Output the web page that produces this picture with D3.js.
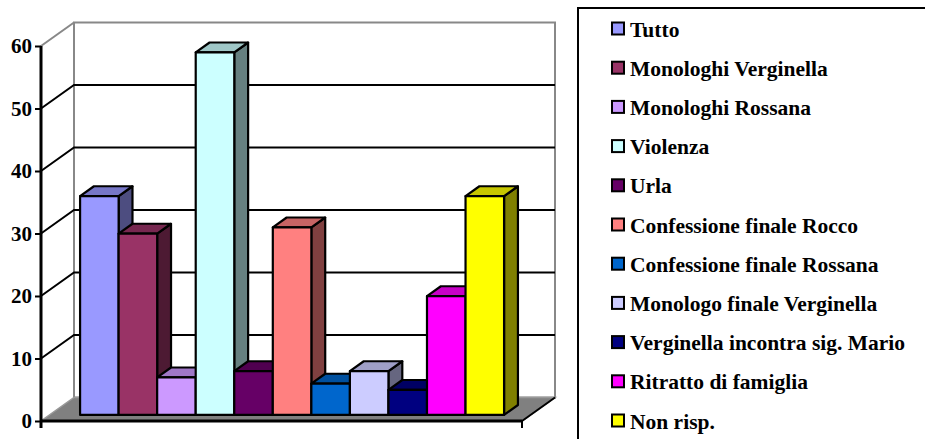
<!DOCTYPE html>
<html>
<head>
<meta charset="utf-8">
<script src="https://cdn.jsdelivr.net/npm/d3@7"></script>
<style>
  body { margin: 0; background: #fff; }
  svg { display: block; }
</style>
</head>
<body>
<svg id="chart" width="925" height="439"></svg>
<script>
// data
const series = ["Tutto", "Monologhi Verginella", "Monologhi Rossana", "Violenza", "Urla",
  "Confessione finale Rocco", "Confessione finale Rossana", "Monologo finale Verginella",
  "Verginella incontra sig. Mario", "Ritratto di famiglia", "Non risp."];
const values = [35, 29, 6, 58, 7, 30, 5, 7, 4, 19, 35];
const colors = ["#9999FF", "#993366", "#CC99FF", "#CCFFFF", "#660066", "#FF8080",
  "#0066CC", "#CCCCFF", "#000080", "#FF00FF", "#FFFF00"];
const yTicks = [0, 10, 20, 30, 40, 50, 60];

const FONT = "'Liberation Serif', 'Times New Roman', serif";
const svg = d3.select("#chart");

// 3D depth vector (full depth of the plot box)
const DX = 33, DY = -23.5;
const x0 = 41, x1 = 522;   // front floor edge
const y = d3.scaleLinear().domain([0, 60]).range([421, 46]);
const x = d3.scaleBand().domain(series).range([71.5, 495.5]);
const zFront = 0.26, zBack = 0.68; // depth of bars

const P = (px, v, z) => [px + DX * z, y(v) + DY * z];
const poly = pts => "M" + pts.map(p => p.join(",")).join("L") + "Z";

function shade(c, k) {
  const r = d3.rgb(c);
  return d3.rgb(r.r * k, r.g * k, r.b * k).formatHex();
}

// back wall
svg.append("path")
  .attr("d", poly([P(x0, 60, 1), P(x1, 60, 1), P(x1, 0, 1), P(x0, 0, 1)]))
  .attr("fill", "#fff").attr("stroke", "#888").attr("stroke-width", 2);

// floor
svg.append("path")
  .attr("d", poly([P(x0, 0, 0), P(x1, 0, 0), P(x1, 0, 1), P(x0, 0, 1)]))
  .attr("fill", "#808080").attr("stroke", "#999").attr("stroke-width", 1.5);
svg.append("line")
  .attr("x1", P(x1, 0, 0)[0]).attr("y1", P(x1, 0, 0)[1])
  .attr("x2", P(x1, 0, 1)[0]).attr("y2", P(x1, 0, 1)[1])
  .attr("stroke", "#000").attr("stroke-width", 2);

// grid lines on back and side wall
yTicks.filter(t => t > 0).forEach(t => {
  const col = t === 60 ? "#888" : "#000";
  svg.append("path")
    .attr("d", "M" + P(x0, t, 0) + "L" + P(x0, t, 1) + (t < 60 ? "L" + P(x1, t, 1) : ""))
    .attr("fill", "none").attr("stroke", col).attr("stroke-width", 2);
});

// bars, left to right so each front face covers the previous side
series.forEach((s, i) => {
  const v = values[i];
  const a = x(s), b = x(s) + x.bandwidth();
  const g = svg.append("g").attr("stroke", "#000").attr("stroke-width", 2.2)
    .attr("stroke-linejoin", "round");
  g.append("path") // side
    .attr("d", poly([P(b, 0, zFront), P(b, 0, zBack), P(b, v, zBack), P(b, v, zFront)]))
    .attr("fill", shade(colors[i], 0.5));
  g.append("path") // top
    .attr("d", poly([P(a, v, zFront), P(b, v, zFront), P(b, v, zBack), P(a, v, zBack)]))
    .attr("fill", shade(colors[i], 0.78));
  g.append("path") // front
    .attr("d", poly([P(a, 0, zFront), P(b, 0, zFront), P(b, v, zFront), P(a, v, zFront)]))
    .attr("fill", colors[i]);
});

// front floor edge (category axis)
svg.append("line").attr("x1", x0).attr("x2", x1).attr("y1", y(0)).attr("y2", y(0))
  .attr("stroke", "#000").attr("stroke-width", 3);
[x0, x1].forEach(px => svg.append("line").attr("x1", px).attr("x2", px)
  .attr("y1", y(0)).attr("y2", y(0) + 7).attr("stroke", "#000").attr("stroke-width", 2));

// value axis
const yAxis = svg.append("g").attr("transform", `translate(${x0},0)`)
  .call(d3.axisLeft(y).tickValues(yTicks).tickSize(6).tickPadding(3));
yAxis.select(".domain").remove();
yAxis.selectAll(".tick line").attr("stroke", "#000").attr("stroke-width", 2);
yAxis.selectAll(".tick text").attr("font-family", FONT)
  .attr("font-weight", "bold").attr("font-size", 21).attr("fill", "#000");
svg.append("line").attr("x1", x0).attr("x2", x0).attr("y1", y(60)).attr("y2", y(0) + 7)
  .attr("stroke", "#000").attr("stroke-width", 3);

// legend
svg.append("rect").attr("x", 578).attr("y", 8).attr("width", 400).attr("height", 500)
  .attr("fill", "#fff").attr("stroke", "#000").attr("stroke-width", 2);
const leg = svg.selectAll(".leg").data(series).join("g").attr("class", "leg")
  .attr("transform", (d, i) => `translate(612,${29 + i * 39.2})`);
leg.append("rect").attr("x", 0).attr("y", -6.5).attr("width", 12).attr("height", 12)
  .attr("fill", (d, i) => colors[i]).attr("stroke", "#000").attr("stroke-width", 2);
leg.append("text").attr("x", 18).attr("dy", "0.35em")
  .attr("font-family", FONT).attr("font-weight", "bold").attr("font-size", 21.5)
  .text(d => d);
</script>
</body>
</html>
